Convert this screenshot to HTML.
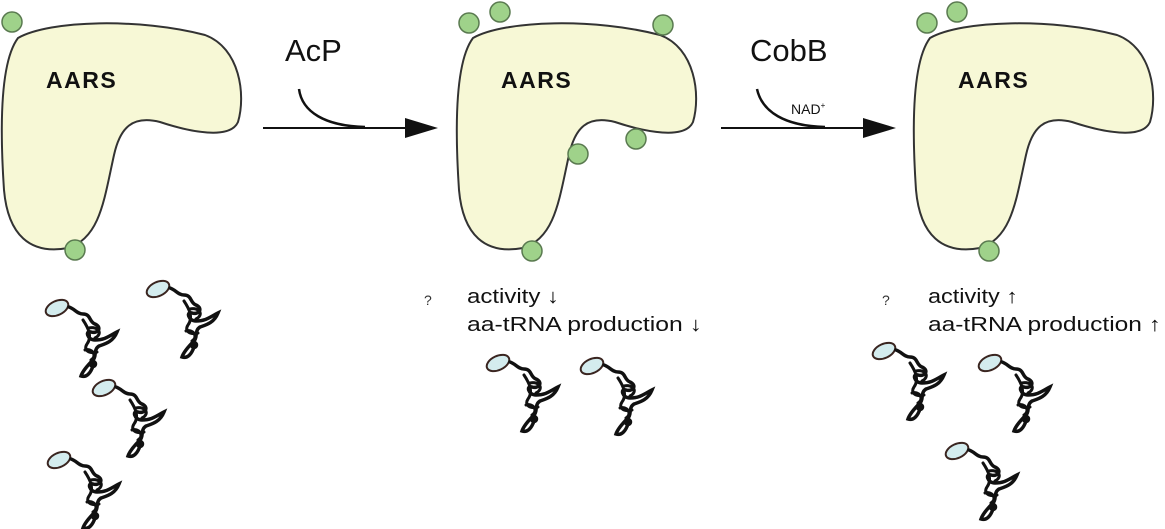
<!DOCTYPE html>
<html><head><style>
html,body{margin:0;padding:0;background:#fff;}
svg{display:block;}
text{font-family:"Liberation Sans",sans-serif;}
</style></head><body>
<svg width="1165" height="529" viewBox="0 0 1165 529" xmlns="http://www.w3.org/2000/svg">
<defs>
<g id="aars">
<path d="M18,38 C50,20 140,18 205,35 C240,48 246,95 238,122 C230,140 190,132 160,122 C132,115 120,128 114,155 C104,200 100,238 68,248 C30,255 8,235 4,190 C0,130 0,62 18,38 Z" fill="#f7f8d6" stroke="#333" stroke-width="2"/>
<text x="46" y="88" font-size="23" font-weight="bold" fill="#111" letter-spacing="1.5">AARS</text>
</g>
<g id="trna" fill="none" stroke="#111" stroke-width="3.5" stroke-linecap="round">
<ellipse cx="12" cy="10" rx="12" ry="7" transform="rotate(-25 12 10)" fill="#d4ecee" stroke="#3a2520" stroke-width="2"/>
<path d="M24,9 C30,11 32,16 38,16 C46,16 44,24 50,26 C58,30 52,36 46,34 C40,32 42,42 50,42 C60,42 64,38 72,34 C68,44 60,46 54,48 C48,52 52,58 48,62 C44,66 38,72 36,78 C42,80 46,74 48,68"/>
<path d="M38,22 C42,28 48,38 42,46 C38,52 44,56 52,54 M44,30 C54,28 58,36 50,40 M40,52 C48,50 52,58 46,62" stroke-width="3"/>
<circle cx="48" cy="66" r="2.5" fill="#111"/>
</g>
</defs>
<use href="#aars" x="0" y="0"/>
<g fill="#9fd28a" stroke="#5a7a50" stroke-width="1.5">
<circle cx="12" cy="22" r="10"/><circle cx="75" cy="250" r="10"/>
</g>
<use href="#trna" x="45" y="298"/>
<use href="#trna" x="146" y="279"/>
<use href="#trna" x="92" y="378"/>
<use href="#trna" x="47" y="450"/>
<text x="285" y="61" font-size="31" fill="#111">AcP</text>
<path d="M299,89 C302,112 325,126 365,127" fill="none" stroke="#111" stroke-width="2.5"/>
<line x1="263" y1="128" x2="410" y2="128" stroke="#111" stroke-width="2"/>
<polygon points="405,118 438,128 405,138" fill="#111"/>
<use href="#aars" x="455" y="0"/>
<g fill="#9fd28a" stroke="#5a7a50" stroke-width="1.5">
<circle cx="469" cy="23" r="10"/><circle cx="500" cy="12" r="10"/><circle cx="663" cy="25" r="10"/>
<circle cx="636" cy="139" r="10"/><circle cx="578" cy="154" r="10"/><circle cx="532" cy="251" r="10"/>
</g>
<text x="424" y="305" font-size="14" fill="#333">?</text>
<text x="467" y="303" font-size="20" fill="#111" textLength="92" lengthAdjust="spacingAndGlyphs">activity ↓</text>
<text x="467" y="331" font-size="20" fill="#111" textLength="235" lengthAdjust="spacingAndGlyphs">aa-tRNA production ↓</text>
<use href="#trna" x="486" y="353"/>
<use href="#trna" x="580" y="356"/>
<text x="750" y="61" font-size="31" fill="#111">CobB</text>
<text x="791" y="114" font-size="14" fill="#111">NAD<tspan font-size="8" dy="-6">+</tspan></text>
<path d="M757,89 C762,112 785,126 825,127" fill="none" stroke="#111" stroke-width="2.5"/>
<line x1="721" y1="128" x2="870" y2="128" stroke="#111" stroke-width="2"/>
<polygon points="863,118 896,128 863,138" fill="#111"/>
<use href="#aars" x="912" y="0"/>
<g fill="#9fd28a" stroke="#5a7a50" stroke-width="1.5">
<circle cx="927" cy="23" r="10"/><circle cx="957" cy="12" r="10"/><circle cx="989" cy="251" r="10"/>
</g>
<text x="882" y="305" font-size="14" fill="#333">?</text>
<text x="928" y="303" font-size="20" fill="#111" textLength="90" lengthAdjust="spacingAndGlyphs">activity ↑</text>
<text x="928" y="331" font-size="20" fill="#111" textLength="233" lengthAdjust="spacingAndGlyphs">aa-tRNA production ↑</text>
<use href="#trna" x="872" y="341"/>
<use href="#trna" x="978" y="353"/>
<use href="#trna" x="945" y="441"/>
</svg>
</body></html>
